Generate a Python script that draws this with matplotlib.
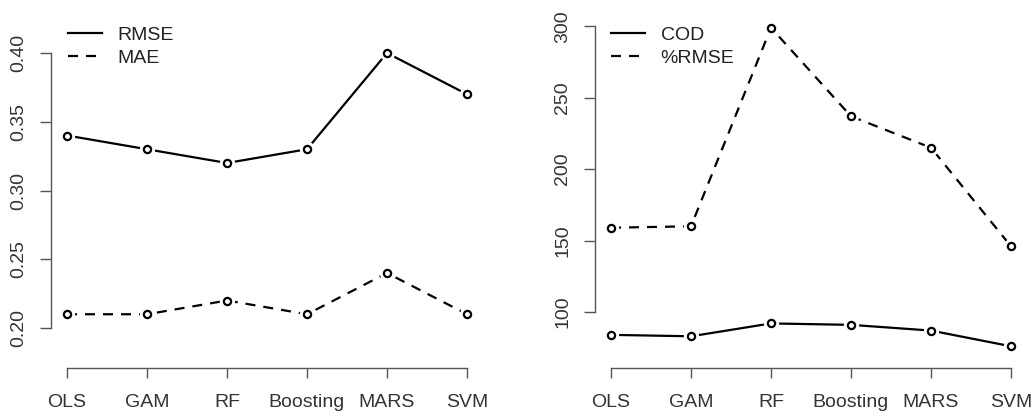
import matplotlib.pyplot as plt

models = ["OLS", "GAM", "RF", "Boosting", "MARS", "SVM"]
rmse = [0.34, 0.33, 0.32, 0.33, 0.40, 0.37]
mae = [0.21, 0.21, 0.22, 0.21, 0.24, 0.21]
cod = [84, 83, 92, 91, 87, 76]
pct_rmse = [159, 160, 299, 237, 215, 146]

left_ticks = [0.20, 0.25, 0.30, 0.35, 0.40]
left_ticklabels = ["0.20", "0.25", "0.30", "0.35", "0.40"]
right_ticks = [100, 150, 200, 250, 300]

plt.rcParams['font.family'] = ['Liberation Sans', 'DejaVu Sans']

W, H = 1036, 417
fig = plt.figure(figsize=(W / 100, H / 100), dpi=100)
DASH = (0, (4.5, 3.6))


def px_axes(x0, x1, y0, y1):
    # pixel box (top-left origin) -> figure fraction
    return fig.add_axes([x0 / W, 1 - y1 / H, (x1 - x0) / W, (y1 - y0) / H])


def style(ax, yticks, ylabels, offset_pt):
    x = list(range(1, len(models) + 1))
    ax.set_xlim(0.8, 6.2)
    for s in ["top", "right"]:
        ax.spines[s].set_visible(False)
    for s in ["left", "bottom"]:
        ax.spines[s].set_color("#555555")
        ax.spines[s].set_linewidth(1.0)
    ax.spines["bottom"].set_position(("outward", offset_pt))
    ax.spines["bottom"].set_bounds(1, 6)
    ax.spines["left"].set_bounds(yticks[0], yticks[-1])
    ax.set_xticks(x)
    ax.set_xticklabels(models)
    ax.set_yticks(yticks)
    ax.set_yticklabels(ylabels, rotation=90, va="center")
    ax.tick_params(axis="x", length=7.5, width=1.0, color="#555555",
                   labelsize=14, pad=11, labelcolor="#333333")
    ax.tick_params(axis="y", length=8, width=1.0, color="#555555",
                   labelsize=14, pad=9, labelcolor="#333333")
    ax.patch.set_alpha(0)


def draw_series(ax, y, ls, label):
    x = list(range(1, len(y) + 1))
    ax.plot(x, y, color="black", lw=1.6, linestyle=ls, label=label,
            dash_capstyle="butt")
    ax.plot(x, y, linestyle="none", marker="o", ms=10, mfc="white",
            mec="white")
    ax.plot(x, y, linestyle="none", marker="o", ms=5.2, mfc="white",
            mec="black", mew=1.6)


def add_legend(ax, x_px):
    ax.legend(loc="upper left", bbox_to_anchor=(x_px / W, 1 - 26 / H),
              bbox_transform=fig.transFigure, frameon=False, fontsize=14,
              handlelength=1.75, handletextpad=0.8, labelspacing=0.3,
              borderpad=0, borderaxespad=0, labelcolor="#222222")


# left panel: RMSE / MAE
ax1 = px_axes(51, 483, 42, 339)
ax1.set_ylim(0.192, 0.408)
draw_series(ax1, rmse, "-", "RMSE")
draw_series(ax1, mae, DASH, "MAE")
style(ax1, left_ticks, left_ticklabels, 21)
add_legend(ax1, 68)

# right panel: COD / %RMSE
ax2 = px_axes(595, 1027, 15, 359)
ax2.set_ylim(67.1, 307.9)
draw_series(ax2, cod, "-", "COD")
draw_series(ax2, pct_rmse, DASH, "%RMSE")
style(ax2, right_ticks, [str(t) for t in right_ticks], 6.5)
add_legend(ax2, 611)

fig.savefig("out.png", dpi=100)
